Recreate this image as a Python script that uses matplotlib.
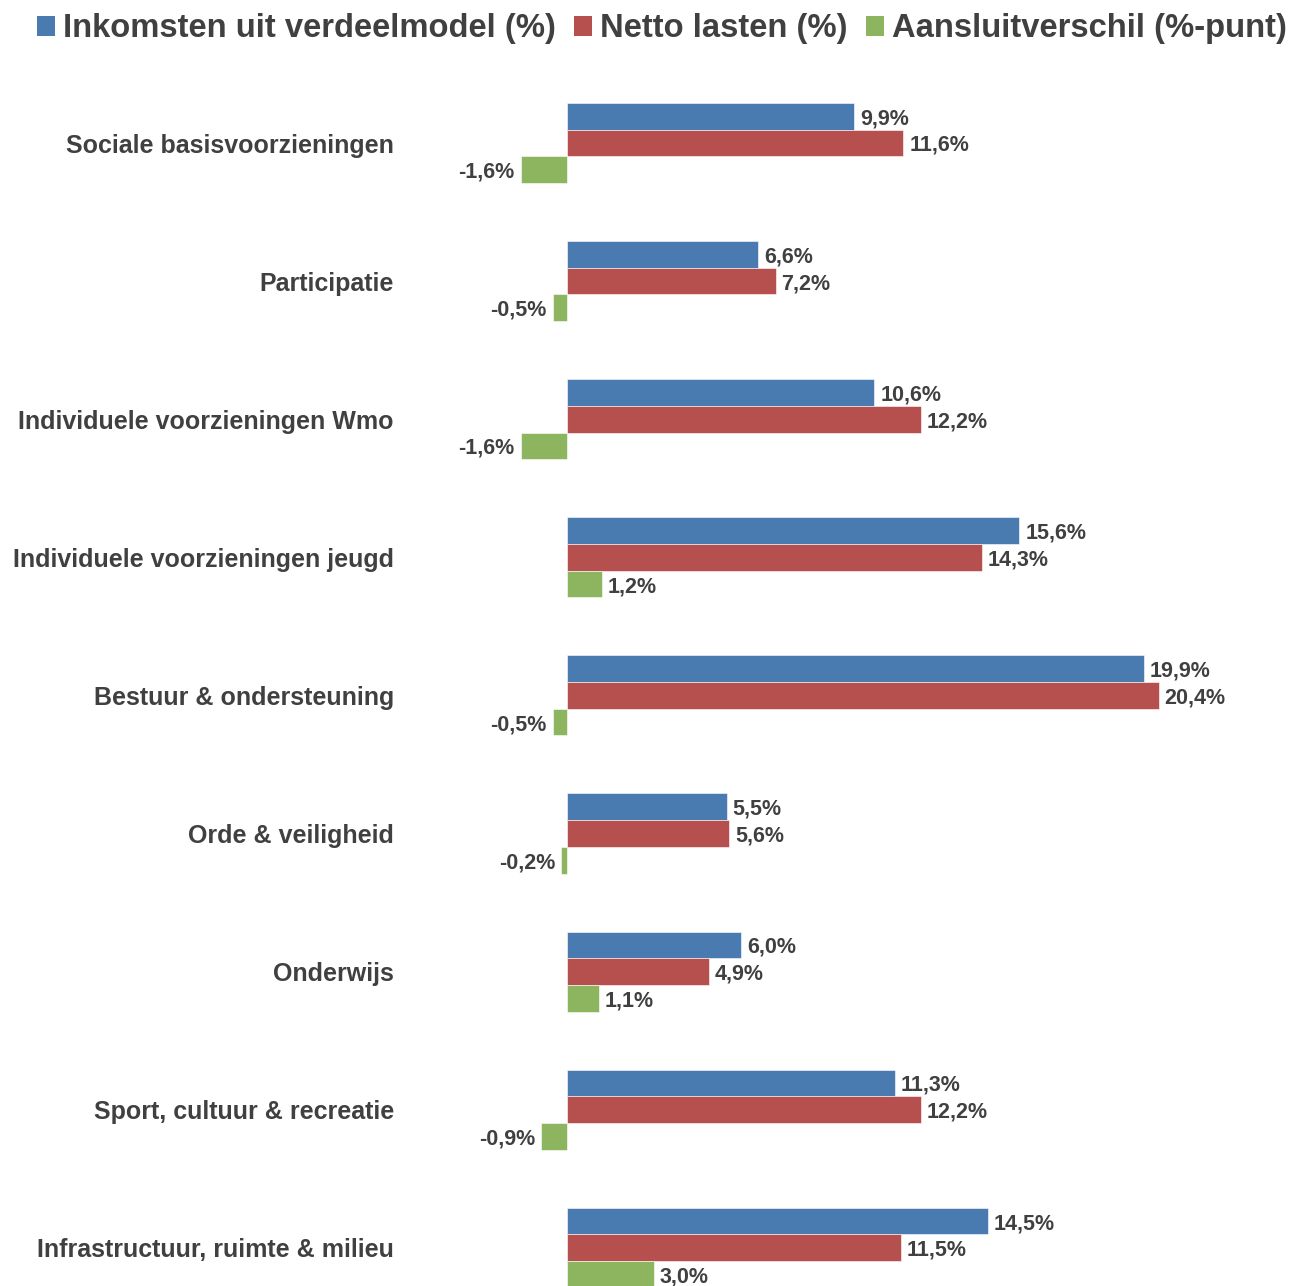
import numpy as np
import matplotlib.pyplot as plt
from matplotlib.patches import Patch

plt.rcParams['font.family'] = ['Liberation Sans', 'DejaVu Sans']

categories = ["Sociale basisvoorzieningen", "Participatie",
              "Individuele voorzieningen Wmo", "Individuele voorzieningen jeugd",
              "Bestuur & ondersteuning", "Orde & veiligheid", "Onderwijs",
              "Sport, cultuur & recreatie", "Infrastructuur, ruimte & milieu"]
inkomsten = [9.9, 6.6, 10.6, 15.6, 19.9, 5.5, 6.0, 11.3, 14.5]
netto_lasten = [11.6, 7.2, 12.2, 14.3, 20.4, 5.6, 4.9, 12.2, 11.5]
aansluitverschil = [-1.6, -0.5, -1.6, 1.2, -0.5, -0.2, 1.1, -0.9, 3.0]

series_names = ["Inkomsten uit verdeelmodel (%)", "Netto lasten (%)",
                "Aansluitverschil (%-punt)"]
colors = ["#4a7bb0", "#b5504f", "#8db45f"]
text_color = "#404040"

W, H = 1298, 1286
fig = plt.figure(figsize=(W / 100, H / 100), dpi=100)
# axes in pixel terms: x from 400 to 1298, y from 60 to 1286
ax = fig.add_axes([400 / W, 0, 898 / W, (H - 60) / H])
px_per_unit = 29.0
ax.set_xlim(-(567 - 400) / px_per_unit, (1298 - 567) / px_per_unit)
row_px = 138.1
ax.set_ylim((1286 - 143) / row_px, -(143 - 60) / row_px)

y = np.arange(len(categories))
h = 26.7 / row_px
for k, vals in enumerate([inkomsten, netto_lasten, aansluitverschil]):
    pos = y + (k - 1) * h
    ax.barh(pos, vals, height=h, color=colors[k], edgecolor="white", linewidth=0.4)
    for p, v in zip(pos, vals):
        lab = f"{v:.1f}%".replace(".", ",")
        if v >= 0:
            ax.text(v + 0.2, p, lab, ha="left", va="center_baseline", fontsize=15.5,
                    fontweight="bold", color=text_color)
        else:
            ax.text(v - 0.2, p, lab, ha="right", va="center_baseline", fontsize=15.5,
                    fontweight="bold", color=text_color)

for yi, cat in zip(y, categories):
    ax.text(-(567 - 394) / px_per_unit, yi, cat, ha="right", va="center_baseline",
            fontsize=18, fontweight="bold", color=text_color)

ax.axis("off")

handles = [Patch(facecolor=c) for c in colors]
fig.legend(handles, series_names, loc="center", bbox_to_anchor=(662 / W, 1 - 29 / H),
           ncol=3, frameon=False, handlelength=0.55, handleheight=0.55,
           handletextpad=0.25, columnspacing=0.55, borderaxespad=0,
           prop={'weight': 'bold', 'size': 23.6})
for t in fig.legends[0].get_texts():
    t.set_color(text_color)

fig.savefig("out.png", dpi=100, facecolor="white")
